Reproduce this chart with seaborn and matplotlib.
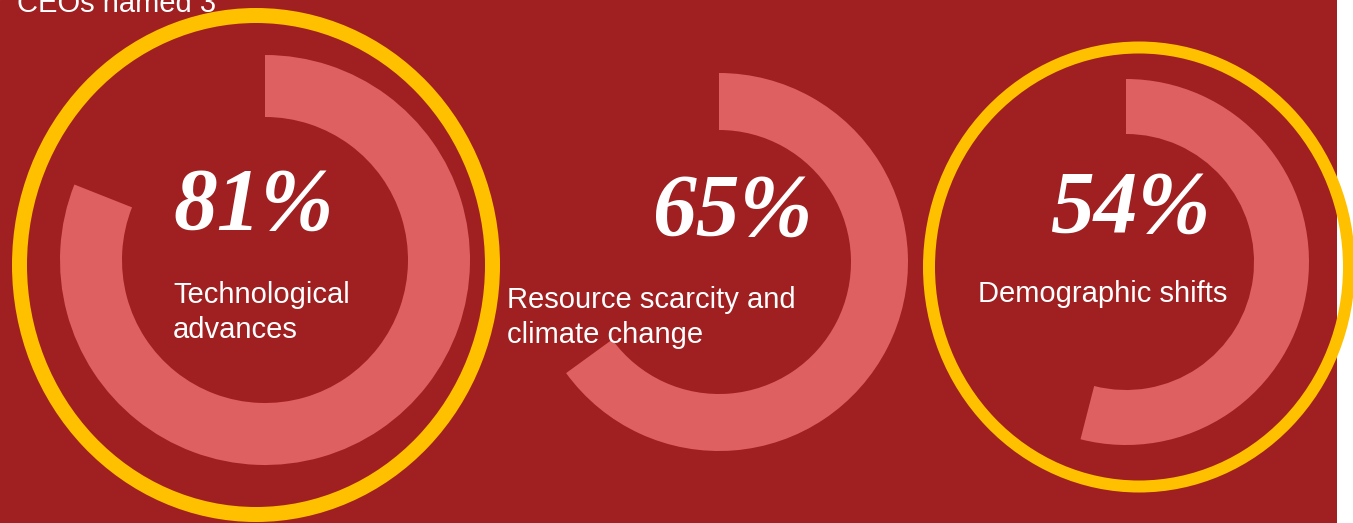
import matplotlib
matplotlib.use('Agg')
import matplotlib.pyplot as plt
from matplotlib.patches import Ellipse
import seaborn as sns

# data
trends = ['Technological advances', 'Resource scarcity and climate change', 'Demographic shifts']
shares = [81, 65, 54]
label_lines = [['Technological', 'advances'],
               ['Resource scarcity and', 'climate change'],
               ['Demographic shifts']]
highlighted = [True, False, True]

# layout (pixels, y measured from the top)
W, H = 1353, 523
centers = [(265, 260), (719, 262), (1126, 262)]
radii = [205, 189, 183]
widths = [62, 57, 55]
num_pos = [(173, 229), (652, 235), (1050, 232)]
lab_pos = [(173, 303), (507, 308), (978, 302)]
line_gap = 35
rings = [((256, 265), 473, 499, 15), None, ((1139, 267), 420, 439, 12)]

bg = '#a01f20'
arc = '#de6060'
yellow = '#ffc000'

sns.set_style('white', {'axes.facecolor': bg})

fig = plt.figure(figsize=(W / 100, H / 100), dpi=100)
fig.patch.set_facecolor('white')
ax = fig.add_axes([0, 0, 1, 1])

for i, pct in enumerate(shares):
    cx, cy = centers[i]
    ax.pie([pct, 100 - pct], colors=[arc, 'none'], startangle=90, counterclock=False,
           radius=radii[i], center=(cx, H - cy),
           wedgeprops=dict(width=widths[i], linewidth=0))

    x, y = num_pos[i]
    ax.text(x, H - y, f'{pct}%', color='white', fontsize=63, fontweight='bold',
            fontstyle='italic', family='Liberation Serif', ha='left', va='baseline', zorder=5)

    x, y = lab_pos[i]
    for k, line in enumerate(label_lines[i]):
        ax.text(x, H - y - k * line_gap, line, color='white', fontsize=21,
                family='Liberation Sans', ha='left', va='baseline', zorder=5)

    if highlighted[i] and rings[i] is not None:
        (ex, ey), w, h, lw = rings[i]
        ax.add_patch(Ellipse((ex, H - ey), w, h, fill=False, edgecolor=yellow,
                             linewidth=lw * 0.72, zorder=6, clip_on=False))

# white strip on the right edge
ax.axvspan(1337, W, color='white', zorder=0.5, linewidth=0)

# title, cut at the top edge as in the source picture
ax.text(17, H - 12, 'CEOs named 3', color='white', fontsize=21,
        family='Liberation Sans', ha='left', va='baseline')

ax.set_xlim(0, W)
ax.set_ylim(0, H)
ax.set_aspect('auto')
ax.axis('off')
ax.add_patch(plt.Rectangle((0, 0), 1337, H, color=bg, zorder=0.1))

fig.savefig('out.png', dpi=100, facecolor='white')
